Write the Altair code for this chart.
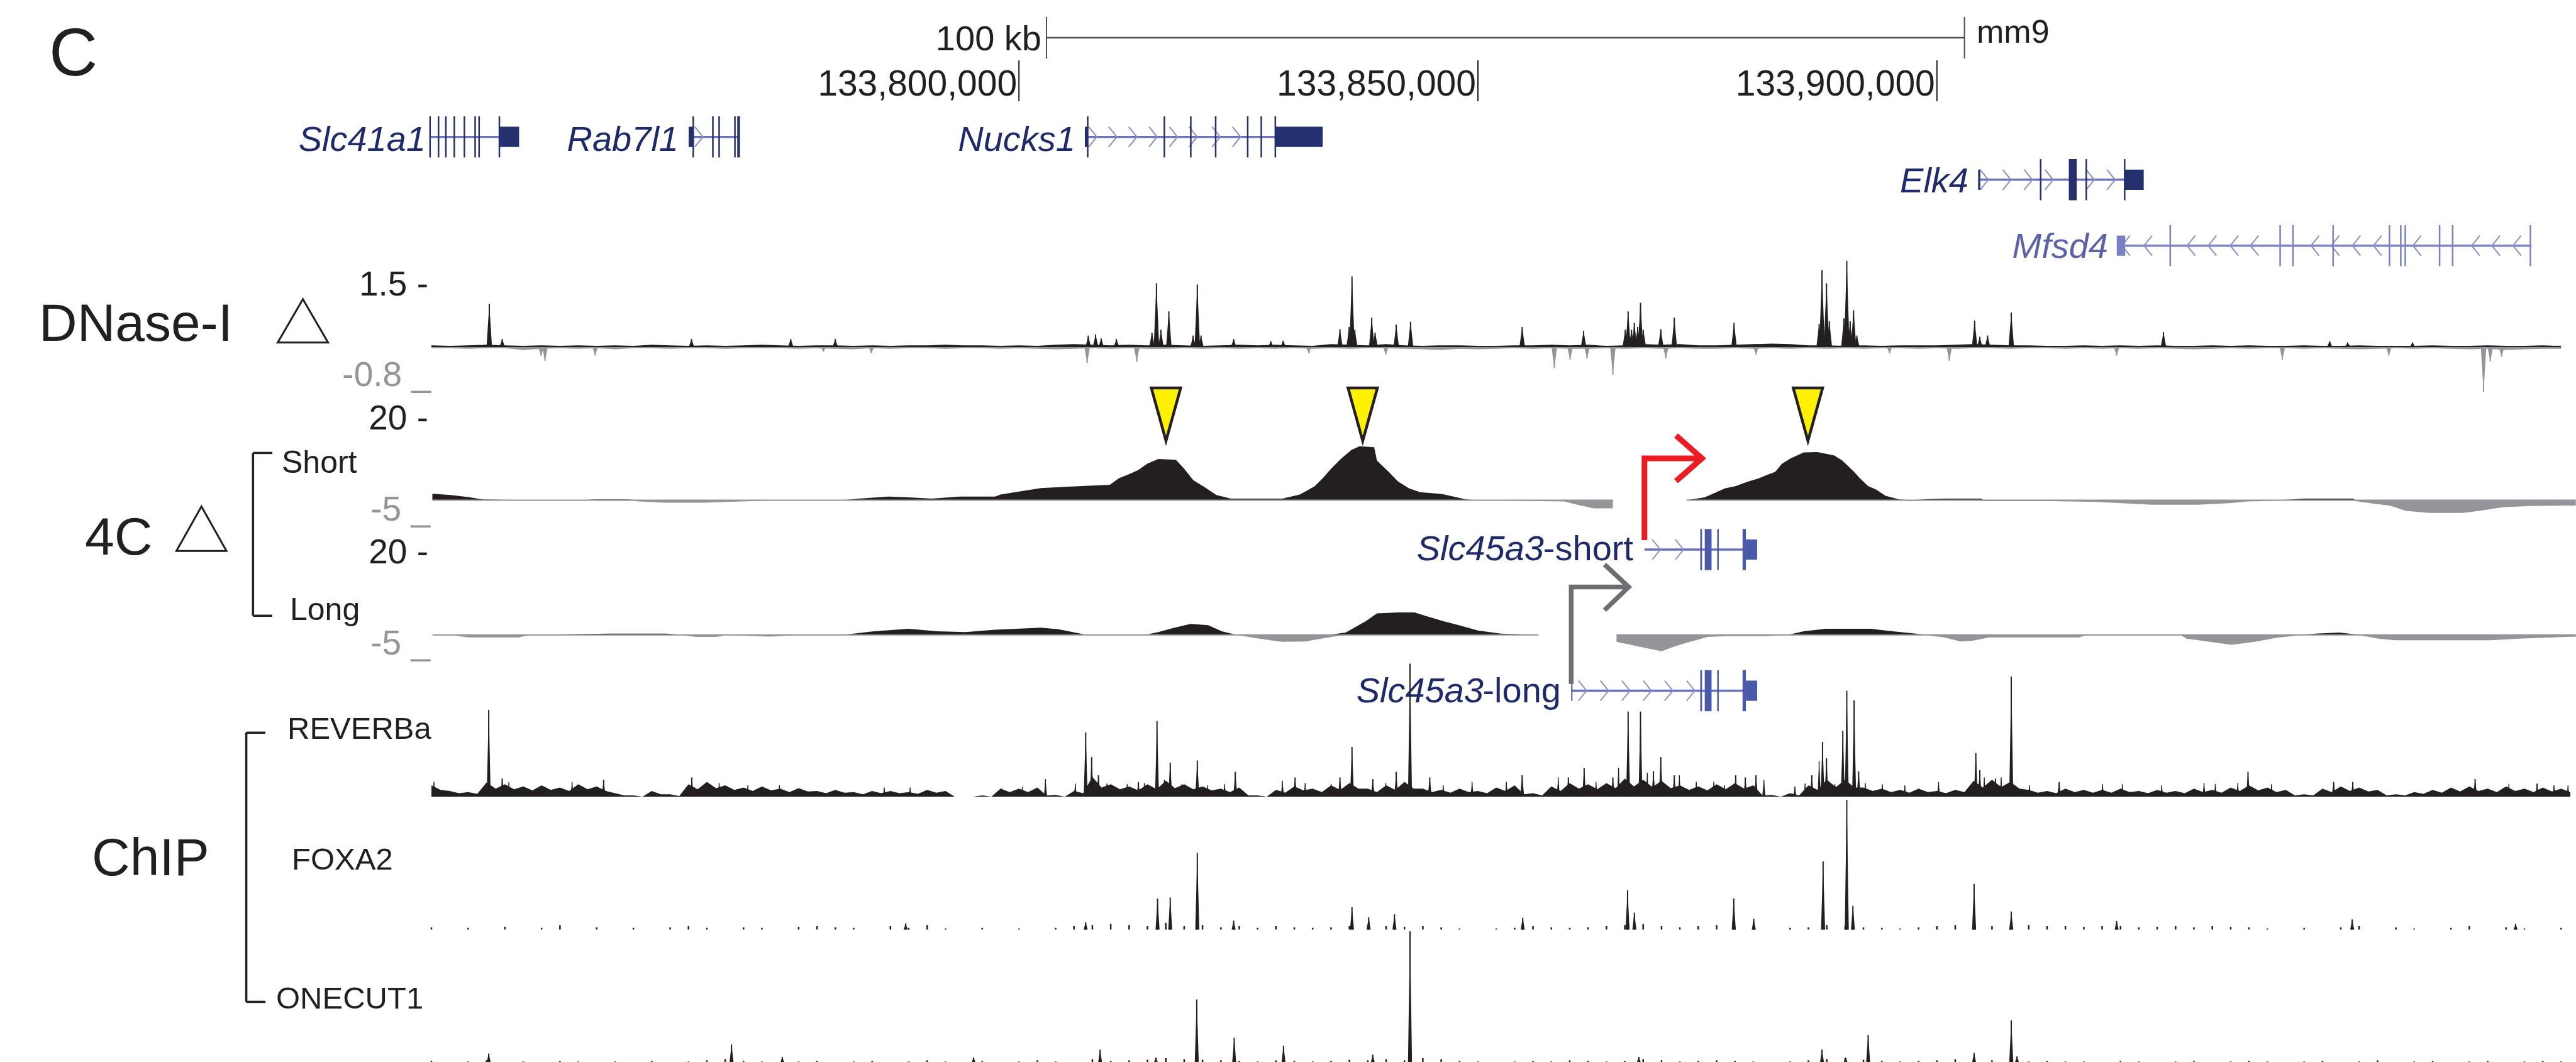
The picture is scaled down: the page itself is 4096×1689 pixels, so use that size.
import altair as alt
import pandas as pd

# ------------------------------------------------------------------ data
# genomic positions are in kb relative to chr1:133,800,000 (mm9)
REF_BP = 133_800_000
ruler_ticks_bp = [133_800_000, 133_850_000, 133_900_000]
scale_bar_kb = [3.0, 103.0]

# DNase-I (signal units)
dnase_peak_kb = [-57.70, -56.29, -35.67, -24.86, -20.01, 7.55, 8.35, 8.96, 10.62, 14.49, 14.98, 15.47, 16.33, 18.97,
                 19.43, 19.83, 23.39, 27.44, 28.79, 34.97, 35.97, 36.28, 36.59, 38.43, 38.80, 41.10, 42.66, 54.82,
                 61.51, 66.05, 66.36, 66.73, 67.04, 67.40, 67.71, 68.02, 69.92, 71.39, 77.90, 87.17, 87.48, 87.97,
                 88.28, 89.87, 90.18, 90.55, 90.92, 91.28, 104.11, 104.67, 105.52, 108.10, 124.68, 142.79, 144.75, 151.81]
dnase_peak_val = [0.75, 0.14, 0.14, 0.14, 0.14, 0.20, 0.22, 0.15, 0.14, 0.25, 1.11, 0.30, 0.62, 0.20,
                  1.09, 0.20, 0.14, 0.10, 0.11, 0.31, 0.35, 1.23, 0.30, 0.51, 0.25, 0.39, 0.44, 0.35,
                  0.28, 0.30, 0.62, 0.30, 0.42, 0.35, 0.77, 0.30, 0.31, 0.51, 0.42, 0.40, 1.34, 1.11,
                  0.45, 0.50, 1.50, 0.45, 0.64, 0.20, 0.46, 0.18, 0.20, 0.60, 0.26, 0.10, 0.08, 0.08]
dnase_dip_kb = [-52.06, -51.63, -46.16, -21.30, -16.08, 7.43, 12.83, 31.58, 39.96, 58.32, 60.04, 61.88, 64.70,
                70.47, 80.29, 94.84, 101.35, 119.58, 137.63, 149.23, 159.55, 160.28, 161.51]
dnase_dip_val = [-0.15, -0.24, -0.15, -0.08, -0.11, -0.28, -0.26, -0.11, -0.13, -0.37, -0.22, -0.20, -0.48,
                 -0.20, -0.13, -0.11, -0.24, -0.15, -0.22, -0.15, -0.78, -0.25, -0.17]

# background signal in 2-kb bins starting at -64 kb
bin_start_kb = -64.0
bin_kb = 2.0
dnase_bg_up = [3, 2, 3, 4, 3, 2, 3, 2, 3, 2, 3, 2, 4, 3, 2, 3, 2, 3, 4, 3, 2, 3, 3, 2, 3, 2, 3, 3, 4, 3,
               3, 2, 3, 2, 4, 5, 4, 3, 4, 3, 4, 3, 2, 3, 4, 3, 4, 3, 2, 5, 4, 3, 5, 3, 2, 3, 3, 2, 2, 3,
               3, 4, 3, 4, 2, 3, 5, 4, 5, 3, 3, 4, 5, 6, 5, 3, 3, 2, 3, 2, 3, 3, 3, 4, 5, 4, 3, 3, 2, 2,
               3, 2, 3, 2, 3, 2, 2, 3, 2, 3, 2, 2, 3, 2, 2, 3, 2, 2, 2, 3, 2, 2, 3, 2, 2, 3, 2]
dnase_bg_down = [2, 2, 3, 2, 2, 5, 3, 2, 3, 2, 4, 2, 2, 3, 2, 2, 3, 2, 2, 2, 3, 2, 3, 4, 2, 3, 2, 2, 3, 2,
                 2, 3, 2, 3, 4, 3, 2, 3, 2, 3, 3, 2, 3, 2, 3, 2, 3, 2, 3, 2, 3, 2, 2, 3, 4, 5, 3, 4, 3, 2,
                 3, 2, 3, 3, 2, 3, 2, 3, 2, 3, 3, 2, 3, 2, 3, 2, 3, 2, 3, 2, 2, 3, 2, 3, 2, 2, 3, 2, 2, 3,
                 2, 3, 2, 3, 2, 3, 4, 3, 2, 3, 2, 2, 3, 2, 3, 4, 3, 2, 3, 2, 3, 4, 3, 5, 4, 3, 3]

# 4C profiles
c4_short_kb = [-63.9, -61.9, -60.0, -58.4, -53.9, -47.5, -46.2, -42.7, -41.4, -38.6, -34.3, -29.2, -25.8, -23.2,
               -18.9, -17.4, -14.2, -12.0, -9.5, -6.4, -2.6, -2.0, -0.1, 2.4, 6.1, 9.9, 10.9, 12.1, 13.0, 14.0,
               15.2, 17.1, 18.0, 19.0, 20.3, 21.5, 23.1, 28.7, 30.6, 32.2, 33.1, 34.0, 35.0, 36.2, 37.1, 38.7,
               39.0, 40.3, 41.3, 42.5, 43.7, 46.2, 48.7, 50.0, 59.4, 60.6, 62.6, 64.7, 72.7, 74.7, 76.9, 78.1,
               79.3, 80.5, 81.5, 82.4, 83.1, 84.1, 85.5, 87.0, 88.8, 89.7, 91.0, 91.6, 92.5, 93.4, 94.4, 95.9,
               97.1, 99.0, 101.1, 104.8, 105.1, 112.5, 117.4, 120.1, 123.5, 128.4, 131.8, 133.9, 137.3, 140.1,
               145.3, 145.6, 147.8, 149.3, 151.1, 153.6, 157.3, 159.1, 161.6, 164.6, 169.6]
c4_short_val = [1.6, 1.3, 0.8, 0.2, 0.0, 0.0, 0.2, 0.2, -0.3, -0.6, -0.6, -0.2, 0.0, 0.1,
                0.1, 0.4, 0.9, 0.7, 0.4, 0.9, 0.9, 1.4, 2.1, 3.0, 3.4, 3.8, 5.4, 6.5, 7.4, 9.0,
                10.1, 9.9, 7.7, 4.9, 3.1, 1.3, 0.4, 0.4, 1.4, 3.4, 5.4, 7.7, 10.0, 12.3, 13.2, 13.0,
                9.7, 6.9, 4.6, 2.9, 2.0, 1.5, 0.2, 0.0, -0.3, -1.0, -2.0, -2.0, 0.0, 0.7, 2.9, 3.5,
                4.5, 5.3, 6.2, 7.0, 8.9, 10.3, 11.7, 11.8, 11.0, 9.7, 6.9, 5.4, 3.5, 2.6, 1.1, 0.2,
                -0.2, 0.3, 0.4, 0.4, -0.2, -0.2, -0.4, -0.7, -1.1, -1.1, -0.7, -0.3, -0.1, 0.4,
                0.4, -0.2, -0.9, -1.3, -2.6, -3.1, -3.1, -2.6, -1.7, -1.4, -1.3]
c4_short_gap = [64.7, 72.7]
c4_long_kb = [-63.9, -61.9, -60.0, -54.5, -53.3, -44.7, -38.3, -36.7, -35.2, -33.0, -31.8, -27.1, -23.8, -18.9,
              -15.8, -12.0, -8.9, -5.8, -2.6, 2.4, 4.3, 6.1, 7.4, 13.7, 15.2, 16.8, 18.7, 20.6, 22.1, 23.7,
              26.2, 28.7, 31.2, 33.7, 35.6, 37.8, 39.0, 41.3, 43.1, 44.4, 46.2, 48.1, 50.0, 52.5, 56.6, 65.1,
              68.1, 70.0, 71.3, 72.6, 75.0, 76.9, 81.1, 83.9, 85.5, 87.9, 92.8, 94.7, 97.7, 99.0, 100.8, 102.6,
              103.9, 105.7, 115.5, 116.1, 126.6, 127.2, 129.7, 132.1, 134.6, 137.0, 139.5, 141.3, 143.8, 146.2,
              148.1, 149.9, 160.3, 163.4, 169.6]
c4_long_val = [0.0, 0.0, -0.6, -0.6, 0.0, 0.3, 0.3, 0.0, -0.5, -0.5, 0.0, -0.4, 0.0, 0.1,
               0.9, 1.5, 0.9, 0.7, 1.3, 1.8, 1.4, 0.6, 0.0, 0.0, 0.7, 1.7, 2.7, 2.4, 0.9, 0.0,
               -0.9, -1.7, -1.6, -0.6, 0.6, 3.4, 5.3, 5.5, 5.5, 4.6, 3.4, 2.3, 1.1, 0.3, 0.0, -1.7,
               -3.1, -4.0, -2.9, -2.0, -0.5, -0.3, -0.3, 0.1, 0.9, 1.5, 1.5, 1.0, 0.3, -0.1, -0.6, -1.6,
               -1.4, -0.6, -0.6, -0.1, -0.1, -0.9, -1.7, -2.4, -1.7, -0.7, -0.1, 0.3, 0.6, -0.1,
               -0.9, -1.3, -1.3, -0.9, -0.4]
c4_long_gap = [56.6, 65.1]
contact_peaks_kb = [16.02, 37.45, 85.95]
tss_short_kb = [68.14]
tss_long_kb = [60.16]

# ChIP-seq
reverb_peak_kb = [-57.76, -56.29, -45.24, -35.64, 7.27, 7.92, 8.66, 13.01, 15.04, 16.48, 19.43, 23.57, 30.08,
                  34.97, 36.28, 38.55, 41.10, 42.60, 44.75, 54.82, 59.85, 61.57, 64.70, 66.36, 67.71, 69.12,
                  69.92, 71.39, 78.08, 79.13, 80.29, 86.37, 87.54, 87.97, 89.75, 90.18, 90.98, 91.47, 104.24,
                  104.67, 106.38, 108.10, 113.32, 133.89, 143.22, 145.30, 158.63, 165.38]
reverb_peak_val = [154, 32, 30, 34, 114, 70, 38, 26, 134, 60, 64, 44, 34, 34, 88, 31, 44, 236, 34, 38, 34, 51, 34,
                   151, 151, 45, 70, 38, 38, 34, 38, 38, 97, 68, 117, 188, 171, 45, 77, 47, 32, 213, 26, 44, 26,
                   26, 31, 23]
reverb_minor_kb = [-63.72, -55.56, -48.68, -32.66, -29.53, -26.09, -14.67, -11.85, -1.87, 0.37, 2.89, 6.14, 9.58,
                   11.79, 13.66, 15.84, 17.74, 20.56, 22.41, 28.70, 31.18, 34.01, 39.96, 46.22, 49.36, 53.10,
                   58.75, 62.86, 65.32, 68.45, 71.95, 73.79, 75.69, 76.86, 81.15, 84.53, 85.64, 87.17, 88.89,
                   92.20, 94.05, 96.50, 100.18, 105.16, 107.00, 110.07, 118.05, 120.20, 124.49, 129.10, 130.33,
                   132.78, 136.46, 162.31, 167.22, 168.75]
reverb_minor_val = [26, 26, 26, 24, 20, 20, 16, 16, 14, 17, 31, 23, 23, 22, 24, 30, 22, 20, 22, 28, 24, 22, 24,
                    20, 26, 26, 34, 26, 51, 42, 38, 26, 26, 20, 30, 18, 23, 63, 22, 24, 22, 20, 26, 34, 34, 20,
                    22, 22, 20, 24, 22, 24, 22, 22, 20, 20]
# bin maxima (at bin starts) and the lower envelope between them (at bin middles)
reverb_bg = [20, 10, 8, 25, 22, 18, 20, 16, 22, 18, 6, 2, 10, 4, 22, 26, 20, 16, 18, 14,
             15, 10, 12, 8, 10, 10, 8, 12, 10, 0, 2, 14, 14, 16, 3, 10, 35, 22, 18, 22,
             28, 22, 18, 14, 16, 2, 12, 18, 14, 20, 24, 14, 20, 26, 14, 12, 14, 10, 16, 20,
             6, 18, 24, 22, 24, 32, 30, 28, 20, 18, 22, 24, 20, 3, 6, 20, 30, 30, 16, 14,
             12, 14, 10, 12, 28, 30, 26, 12, 10, 14, 12, 12, 14, 10, 12, 10, 14, 12, 16, 20,
             16, 12, 4, 14, 18, 16, 12, 4, 8, 12, 16, 18, 14, 18, 14, 16, 14]
reverb_floor = [12, 6, 5, 14, 13, 11, 12, 10, 13, 10, 2, 0, 4, 1, 13, 15, 12, 10, 11, 8,
                9, 6, 7, 4, 6, 6, 5, 7, 0, 0, 0, 8, 8, 2, 0, 6, 16, 13, 11, 13,
                15, 13, 11, 8, 2, 0, 7, 11, 8, 12, 14, 8, 12, 14, 8, 7, 8, 6, 10, 4,
                2, 10, 14, 13, 15, 18, 17, 15, 12, 11, 13, 14, 2, 0, 2, 12, 17, 16, 10, 8,
                7, 8, 6, 8, 16, 17, 14, 7, 6, 8, 7, 7, 8, 6, 7, 6, 8, 7, 10, 11,
                8, 2, 2, 8, 10, 9, 2, 2, 5, 7, 9, 10, 8, 10, 8, 9, 8]
foxa2_peak_kb = [-12.34, 7.27, 15.10, 16.48, 19.43, 23.39, 36.28, 38.10, 40.91, 54.88, 66.30, 67.04, 77.87, 80.05,
                 87.60, 90.18, 90.85, 104.05, 108.10, 119.58, 145.24, 163.04]
foxa2_peak_val = [11, 13, 55, 57, 136, 16, 40, 22, 27, 21, 70, 30, 55, 19, 121, 230, 42, 81, 32, 15, 18, 10]
foxa2_bg = [4, 0, 3, 0, 5, 0, 3, 8, 0, 4, 0, 3, 0, 4, 6, 3, 0, 4, 3, 0,
            5, 6, 4, 3, 0, 6, 3, 8, 2, 0, 3, 0, 2, 0, 3, 6, 8, 10, 8, 6,
            12, 6, 8, 4, 6, 3, 6, 4, 3, 4, 6, 8, 6, 5, 6, 4, 2, 0, 2, 3,
            6, 4, 3, 4, 6, 8, 10, 6, 4, 6, 8, 5, 4, 0, 3, 4, 8, 6, 4, 3,
            2, 4, 6, 8, 12, 6, 4, 8, 6, 6, 5, 6, 6, 4, 5, 6, 4, 6, 5, 4,
            2, 0, 3, 0, 4, 6, 0, 4, 2, 0, 3, 6, 0, 4, 2, 0, 3]
onecut1_peak_kb = [-57.76, -31.31, -25.78, -4.94, 8.84, 14.92, 19.37, 23.45, 28.82, 38.55, 42.60, 67.53, 87.48,
                   90.06, 92.51, 104.05, 108.10, 108.72]
onecut1_peak_val = [16, 32, 10, 9, 23, 9, 112, 44, 30, 14, 233, 10, 23, 9, 49, 17, 75, 11]
onecut1_bg = [3, 0, 2, 4, 0, 2, 0, 3, 2, 0, 2, 0, 3, 0, 2, 4, 6, 3, 2, 0,
              2, 3, 0, 2, 3, 0, 2, 4, 2, 0, 3, 0, 2, 4, 2, 0, 6, 3, 4, 5,
              8, 6, 5, 4, 3, 2, 4, 3, 2, 3, 5, 4, 6, 4, 8, 6, 3, 2, 0, 2,
              3, 2, 4, 3, 2, 3, 6, 4, 2, 3, 4, 3, 2, 0, 2, 4, 6, 8, 5, 3,
              2, 3, 4, 6, 8, 4, 3, 2, 3, 2, 2, 0, 3, 2, 0, 2, 3, 0, 2, 3,
              2, 0, 2, 3, 0, 2, 4, 0, 2, 3, 0, 2, 3, 0, 2, 3, 2]

# gene models (kb)
genes = {
    "Slc41a1": dict(line=(-64.15, -56.60), thin=[-64.15, -63.23, -62.43, -61.51, -60.41, -59.24, -58.81, -56.60],
                    tall=[], utr=[(-56.60, -54.45)], chev=[], strand="+"),
    "Rab7l1": dict(line=(-35.48, -30.39), thin=[-35.48, -33.34, -32.66, -30.94], tall=[(-30.69, -30.39)],
                   utr=[(-35.98, -35.48)], chev=[-34.87], strand="+"),
    "Nucks1": dict(line=(7.49, 27.93), thin=[7.49, 15.84, 18.72, 21.43, 24.92, 26.40, 27.93], tall=[],
                   utr=[(7.18, 7.49), (27.93, 33.09)],
                   chev=[8.04, 10.22, 12.40, 14.61, 16.82, 18.97, 21.49, 23.70], strand="+"),
    "Elk4": dict(line=(104.73, 120.45), thin=[111.30, 116.27, 120.45], tall=[(114.37, 115.23)],
                 utr=[(104.49, 104.73), (120.45, 122.53)],
                 chev=[105.16, 107.62, 109.95, 112.22, 116.70, 118.97], strand="+"),
    "Mfsd4": dict(line=(120.51, 164.77),
                  thin=[125.42, 137.39, 138.80, 143.16, 149.30, 150.53, 151.02, 154.76, 156.18, 164.65], tall=[],
                  utr=[(119.59, 120.51)],
                  chev=[120.6, 123.0, 127.7, 130.0, 132.4, 134.6, 141.2, 143.4, 145.7, 148.0, 152.3, 158.7,
                        160.9, 163.2], strand="-"),
    "Slc45a3-short": dict(line=(68.14, 79.19), thin=[76.15], tall=[(74.22, 74.41), (74.71, 75.45), (78.83, 79.19)],
                          utr=[(79.19, 80.42)], chev=[69.43, 71.95], strand="+"),
    "Slc45a3-long": dict(line=(60.16, 79.19), thin=[76.15], tall=[(74.22, 74.41), (74.71, 75.45), (78.83, 79.19)],
                         utr=[(60.16, 60.30), (79.19, 80.42)],
                         chev=[61.39, 63.78, 66.12, 68.45, 70.78, 73.18], strand="+"),
}

# ------------------------------------------------------------------ styles / layout
FONT = "Liberation Sans"
BLACK = "#231f20"
GRAY = "#939598"
NAVY = "#25306e"
NAVY_TXT = "#1f2a6b"
MID = "#4b5aa8"
LIGHT = "#7b80c2"
CHEV = "#878dcb"
INTRON = "#6a71b7"
PEAK_HALF_DNASE = 0.3   # drawn half-width of a spike, kb
PEAK_HALF_CHIP = 0.22

XS = alt.Scale(domain=[-111.0, 169.62], nice=False, zero=False)


def ys(lo, hi, plo, phi):
    return alt.Scale(domain=[lo, hi], range=[plo, phi], nice=False, zero=False)


Y_DNASE = ys(-1.0, 2.0, 643.3, 369.2)
Y_SHORT = ys(-5, 20, 828.1, 665.7)
Y_LONG = ys(-5, 20, 1042.3, 879.9)
Y_REV = ys(0, 250, 1266.9, 1042.9)
Y_FOX = ys(0, 250, 1478.4, 1254.4)
Y_ONE = ys(0, 250, 1689.9, 1465.9)

ONE = pd.DataFrame({"a": [0]})
layers = []


def X(field="kb"):
    return alt.X(f"{field}:Q", scale=XS, axis=None)


def text(t, x, y, size, color=BLACK, align="left", italic=False):
    layers.append(alt.Chart(ONE).mark_text(
        align=align, baseline="alphabetic", font=FONT, fontSize=size, color=color,
        fontStyle="italic" if italic else "normal").encode(
        x=alt.value(x), y=alt.value(y), text=alt.value(t)))


def vrule(x, y1, y2, color=BLACK, w=3.5):
    layers.append(alt.Chart(ONE).mark_rule(color=color, strokeWidth=w).encode(
        x=alt.value(x), y=alt.value(y1), y2=alt.value(y2)))


def hrule(x1, x2, y, color=BLACK, w=3.5):
    layers.append(alt.Chart(ONE).mark_rule(color=color, strokeWidth=w).encode(
        x=alt.value(x1), x2=alt.value(x2), y=alt.value(y)))


def spikes(kb, val, yscale, color, half, w=2):
    # each spike drawn as a narrow peak shape centred on its position, plus a hairline for the tip
    rows = []
    for i, (k, v) in enumerate(zip(kb, val)):
        rows += [{"kb": k - half, "v": 0.0, "id": i}, {"kb": k, "v": v, "id": i}, {"kb": k + half, "v": 0.0, "id": i}]
    df = pd.DataFrame(rows)
    df["z"] = 0.0
    layers.append(alt.Chart(df).mark_area(color=color, interpolate="linear").encode(
        x=X(), y=alt.Y("v:Q", scale=yscale, axis=None, stack=None), y2="z:Q", detail="id:N"))
    df2 = pd.DataFrame({"kb": kb, "v": val, "z": 0.0})
    layers.append(alt.Chart(df2).mark_rule(color=color, strokeWidth=w).encode(
        x=X(), y=alt.Y("v:Q", scale=yscale, axis=None), y2="z:Q"))


def bins(vals, offset=0.0):
    return [bin_start_kb + offset + bin_kb * i for i in range(len(vals))]


def band(vals, factor, yscale, color):
    df = pd.DataFrame({"kb": bins(vals), "v": [v * factor for v in vals], "z": 0.0})
    layers.append(alt.Chart(df).mark_area(color=color, interpolate="linear").encode(
        x=X(), y=alt.Y("v:Q", scale=yscale, axis=None, stack=None), y2="z:Q"))


def jagged(tops, floors, yscale, color):
    df = pd.concat([pd.DataFrame({"kb": bins(tops), "v": tops}),
                    pd.DataFrame({"kb": bins(floors, bin_kb / 2), "v": floors})]).sort_values("kb")
    df["z"] = 0.0
    layers.append(alt.Chart(df).mark_area(color=color, interpolate="linear").encode(
        x=X(), y=alt.Y("v:Q", scale=yscale, axis=None, stack=None), y2="z:Q"))


def ticks(vals, yscale, color, w):
    df = pd.DataFrame({"kb": bins(vals), "v": vals, "z": 0.0})
    df = df[df.v > 0]
    layers.append(alt.Chart(df).mark_rule(color=color, strokeWidth=w).encode(
        x=X(), y=alt.Y("v:Q", scale=yscale, axis=None), y2="z:Q"))


def fourc(kb, val, gap, yscale):
    df = pd.DataFrame({"kb": kb, "v": val})
    df["seg"] = (df.kb > gap[0]).astype(int)
    df["pos"] = df.v.clip(lower=0)
    df["neg"] = df.v.clip(upper=0)
    df["z"] = 0.0
    for col, colr in (("neg", GRAY), ("pos", BLACK)):
        layers.append(alt.Chart(df).mark_area(color=colr, interpolate="linear").encode(
            x=X(), y=alt.Y(f"{col}:Q", scale=yscale, axis=None, stack=None), y2="z:Q", detail="seg:N"))
    ext = df.groupby("seg").kb.agg(["min", "max"]).reset_index()
    ext["z"] = 0.0
    layers.append(alt.Chart(ext).mark_rule(color=GRAY, strokeWidth=2).encode(
        x=X("min"), x2="max:Q", y=alt.Y("z:Q", scale=yscale, axis=None)))


TALL, HALF = 32.7, 16.1
CHEV_R = "M-0.4,-1L0.4,0L-0.4,1"
CHEV_L = "M0.4,-1L-0.4,0L0.4,1"


def gene(name, yc, exon_col, line_col):
    g = genes[name]
    ln = pd.DataFrame({"a": [g["line"][0]], "b": [g["line"][1]]})
    layers.append(alt.Chart(ln).mark_rule(color=line_col, strokeWidth=3.5).encode(
        x=X("a"), x2="b:Q", y=alt.value(yc)))
    if g["chev"]:
        layers.append(alt.Chart(pd.DataFrame({"kb": g["chev"]})).mark_point(
            shape=CHEV_R if g["strand"] == "+" else CHEV_L, size=1024, filled=False,
            color=CHEV, strokeWidth=2, opacity=1).encode(x=X(), y=alt.value(yc)))
    if g["thin"]:
        layers.append(alt.Chart(pd.DataFrame({"kb": g["thin"]})).mark_rule(color=exon_col, strokeWidth=2.5).encode(
            x=X(), y=alt.value(yc - TALL), y2=alt.value(yc + TALL)))
    if g["tall"]:
        df = pd.DataFrame(g["tall"], columns=["a", "b"])
        layers.append(alt.Chart(df).mark_rect(color=exon_col).encode(
            x=X("a"), x2="b:Q", y=alt.value(yc - TALL), y2=alt.value(yc + TALL)))
    if g["utr"]:
        df = pd.DataFrame(g["utr"], columns=["a", "b"])
        layers.append(alt.Chart(df).mark_rect(color=exon_col).encode(
            x=X("a"), x2="b:Q", y=alt.value(yc - HALF), y2=alt.value(yc + HALF)))


# ------------------------------------------------------------------ header: ruler
text("C", 78, 120, 107)
sb = pd.DataFrame({"a": [scale_bar_kb[0]], "b": [scale_bar_kb[1]]})
layers.append(alt.Chart(sb).mark_rule(color="#4d4d4f", strokeWidth=2.5).encode(x=X("a"), x2="b:Q", y=alt.value(60)))
layers.append(alt.Chart(pd.DataFrame({"kb": scale_bar_kb})).mark_rule(color="#4d4d4f", strokeWidth=2).encode(
    x=X(), y=alt.value(27), y2=alt.value(93)))
text("100 kb", 1656, 80, 56, align="right")
text("mm9", 3143, 68, 52)
rt = pd.DataFrame({"kb": [(b - REF_BP) / 1000 for b in ruler_ticks_bp], "lab": [f"{b:,}" for b in ruler_ticks_bp]})
layers.append(alt.Chart(rt).mark_rule(color=BLACK, strokeWidth=2).encode(x=X(), y=alt.value(96), y2=alt.value(161)))
layers.append(alt.Chart(rt).mark_text(align="right", baseline="alphabetic", dx=-3, font=FONT, fontSize=57,
                                      color=BLACK).encode(x=X(), y=alt.value(152), text="lab:N"))

# ------------------------------------------------------------------ genes
gene("Slc41a1", 217.7, NAVY, INTRON)
gene("Rab7l1", 217.7, NAVY, INTRON)
gene("Nucks1", 217.7, NAVY, INTRON)
gene("Elk4", 285.8, NAVY, INTRON)
gene("Mfsd4", 390.7, LIGHT, LIGHT)
text("Slc41a1", 677, 240, 56, NAVY_TXT, "right", True)
text("Rab7l1", 1079, 240, 56, NAVY_TXT, "right", True)
text("Nucks1", 1710, 240, 56, NAVY_TXT, "right", True)
text("Elk4", 3130, 305.5, 56, NAVY_TXT, "right", True)
text("Mfsd4", 3352, 410, 56, "#5b62a8", "right", True)

# ------------------------------------------------------------------ DNase-I
band(dnase_bg_down, -0.01, Y_DNASE, GRAY)
band(dnase_bg_up, 0.01, Y_DNASE, BLACK)
spikes(dnase_dip_kb, dnase_dip_val, Y_DNASE, GRAY, PEAK_HALF_DNASE)
spikes(dnase_peak_kb, dnase_peak_val, Y_DNASE, BLACK, PEAK_HALF_DNASE)
text("DNase-I", 62, 542, 84)
layers.append(alt.Chart(ONE).mark_point(shape="M0,-1L1.16,1L-1.16,1Z", size=4761, filled=False, color=BLACK,
                                        strokeWidth=3, opacity=1).encode(x=alt.value(481.6), y=alt.value(510.3)))
text("1.5 -", 681, 470, 55, align="right")
text("-0.8 _", 685, 614, 55, GRAY, "right")

# ------------------------------------------------------------------ 4C
fourc(c4_short_kb, c4_short_val, c4_short_gap, Y_SHORT)
fourc(c4_long_kb, c4_long_val, c4_long_gap, Y_LONG)
layers.append(alt.Chart(pd.DataFrame({"kb": contact_peaks_kb})).mark_point(
    shape="M-0.555,-1L0.555,-1L0,1Z", size=7056, filled=True, fill="#fff200", stroke=BLACK, strokeWidth=4.5,
    opacity=1).encode(x=X(), y=alt.value(659)))
text("4C", 135, 881.7, 84)
layers.append(alt.Chart(ONE).mark_point(shape="M0,-1L1.125,1L-1.125,1Z", size=5013, filled=False, color=BLACK,
                                        strokeWidth=3, opacity=1).encode(x=alt.value(320.3), y=alt.value(840.9)))
vrule(402.3, 720.4, 979.3)
hrule(402.3, 432.8, 720.4)
hrule(402.3, 432.8, 979.3)
text("Short", 448, 751.7, 50)
text("Long", 461, 985.6, 50)
text("20 -", 681, 682.7, 55, align="right")
text("-5 _", 684, 828, 55, GRAY, "right")
text("20 -", 681, 896, 55, align="right")
text("-5 _", 684, 1041, 55, GRAY, "right")

# Slc45a3 isoforms and their promoters
gene("Slc45a3-short", 874.0, MID, INTRON)
gene("Slc45a3-long", 1098.5, MID, INTRON)
text("Slc45a3", 2455, 890.6, 56, NAVY_TXT, "right", True)
text("-short", 2597, 890.6, 56, NAVY_TXT, "right")
text("Slc45a3", 2359, 1117, 56, NAVY_TXT, "right", True)
text("-long", 2482, 1117, 56, NAVY_TXT, "right")
layers.append(alt.Chart(pd.DataFrame({"kb": tss_short_kb})).mark_point(
    shape="M0,0L0,-1.30L0.915,-1.30M0.502,-1.664L0.915,-1.30L0.502,-0.938", size=40000, filled=False,
    color="#ed1c24", strokeWidth=9, opacity=1).encode(x=X(), y=alt.value(859)))
layers.append(alt.Chart(pd.DataFrame({"kb": tss_long_kb})).mark_point(
    shape="M0,0L0,-1.541L0.914,-1.541M0.53,-1.899L0.914,-1.541L0.53,-1.173", size=40000, filled=False,
    color="#6d6e71", strokeWidth=7.5, opacity=1).encode(x=X(), y=alt.value(1087.7)))

# ------------------------------------------------------------------ ChIP
jagged(reverb_bg, reverb_floor, Y_REV, BLACK)
spikes(reverb_minor_kb, reverb_minor_val, Y_REV, BLACK, 0.18, 1.5)
spikes(reverb_peak_kb, reverb_peak_val, Y_REV, BLACK, PEAK_HALF_CHIP)
ticks(foxa2_bg, Y_FOX, BLACK, 2.5)
spikes(foxa2_peak_kb, foxa2_peak_val, Y_FOX, BLACK, PEAK_HALF_CHIP)
ticks(onecut1_bg, Y_ONE, BLACK, 2.5)
spikes(onecut1_peak_kb, onecut1_peak_val, Y_ONE, BLACK, PEAK_HALF_CHIP)
text("ChIP", 146, 1392.4, 84)
vrule(391.6, 1165.3, 1593.4)
hrule(391.6, 422, 1165.3)
hrule(391.6, 422, 1593.4)
text("REVERBa", 457, 1174.7, 49)
text("FOXA2", 464, 1382.5, 49)
text("ONECUT1", 439, 1603.8, 49)

chart = alt.layer(*layers).resolve_scale(y="independent").properties(
    width=4096, height=1689, padding=0, autosize=alt.AutoSizeParams(type="none"), background="white"
).configure_view(strokeWidth=0)

chart.save("out.html", embed_options={"renderer": "svg", "actions": False})
